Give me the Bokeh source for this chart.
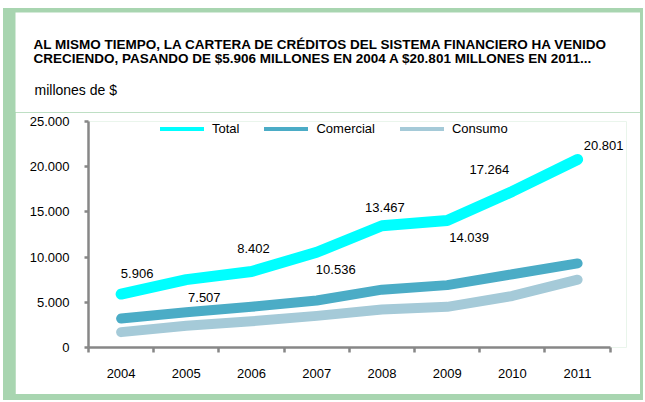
from bokeh.plotting import figure
from bokeh.models import (Range1d, LinearAxis, FixedTicker, Label,
                          Legend, LegendItem, LabelSet, ColumnDataSource)
from bokeh.core.properties import value
from bokeh.layouts import column
from bokeh.embed import file_html
from bokeh.resources import INLINE

# ---------------- data ----------------
years = ["2004", "2005", "2006", "2007", "2008", "2009", "2010", "2011"]
total = [5906, 7507, 8402, 10536, 13467, 14039, 17264, 20801]
comercial = [3200, 3900, 4500, 5200, 6400, 6900, 8100, 9300]
consumo = [1700, 2400, 2900, 3500, 4200, 4500, 5700, 7500]
total_labels = ["5.906", "7.507", "8.402", "10.536", "13.467", "14.039", "17.264", "20.801"]
y_ticks = [0, 5000, 10000, 15000, 20000, 25000]
y_tick_labels = ["0", "5.000", "10.000", "15.000", "20.000", "25.000"]
series_names = ["Total", "Comercial", "Consumo"]
title_lines = [
    "AL MISMO TIEMPO, LA CARTERA  DE CRÉDITOS DEL SISTEMA FINANCIERO  HA VENIDO",
    "CRECIENDO,  PASANDO  DE $5.906  MILLONES EN 2004 A $20.801  MILLONES EN 2011...",
]
unit_label = "millones de $"

# category slots: centre of slot i is i + 0.5
n = len(years)
xc = [i + 0.5 for i in range(n)]
series = [total, comercial, consumo]

# ---------------- style ----------------
FONT = "Liberation Sans"
GREEN = "#A8D5B0"
AXIS = "#878787"
COLORS = ["#00FFFF", "#4BACC6", "#A5CAD8"]
WIDTHS = [11, 10, 10]
RIGHT_PAD = 0.25  # extra room right of the last slot (for the last data label)
# pixel offsets of the data labels (style only)
label_dx = [16, 18, 2, 19, 3, 22, -23, 26]
label_dy = [21, -18, 23, -17, 18, -17, 22, 14]

# ---------------- header (title + unit) ----------------
head = figure(width=625, height=100, output_backend="svg", toolbar_location=None,
              x_range=Range1d(0, 1), y_range=Range1d(0, 1),
              x_axis_type=None, y_axis_type=None, min_border=0, frame_align=False)
head.outline_line_color = None
head.grid.visible = False
head.background_fill_color = "white"
head.border_fill_color = "white"
for txt, yy in zip(title_lines, [68.5, 54]):
    head.add_layout(Label(x=18, y=yy, x_units="screen", y_units="screen", text=txt,
                          text_align="left", text_baseline="middle", text_font=FONT,
                          text_font_size="13.5px", text_font_style="bold", text_color="black"))
head.add_layout(Label(x=19, y=23, x_units="screen", y_units="screen", text=unit_label,
                      text_align="left", text_baseline="middle", text_font=FONT,
                      text_font_size="14px", text_color="black"))

# ---------------- chart ----------------
p = figure(width=625, height=282, output_backend="svg", toolbar_location=None,
           x_range=Range1d(0, n + RIGHT_PAD), y_range=Range1d(y_ticks[0], y_ticks[-1]),
           x_axis_type=None, y_axis_type=None, frame_align=False,
           min_border_left=73, min_border_right=14, min_border_top=9, min_border_bottom=47)
p.outline_line_color = None
p.background_fill_color = "white"
p.border_fill_color = "white"
p.grid.visible = False

# y axis
yax = LinearAxis(ticker=FixedTicker(ticks=y_ticks),
                 major_label_overrides={t: l for t, l in zip(y_ticks, y_tick_labels)})
yax.axis_line_color = AXIS
yax.axis_line_width = 2.5
yax.major_tick_line_color = AXIS
yax.major_tick_line_width = 2.5
yax.major_tick_in = 0
yax.major_tick_out = 4
yax.minor_tick_line_color = None
yax.major_label_standoff = 15
yax.major_label_text_font = FONT
yax.major_label_text_font_size = "13px"
yax.major_label_text_color = "black"
p.add_layout(yax, "left")

# x axis line with ticks at category edges
xedge = LinearAxis(ticker=FixedTicker(ticks=list(range(n + 1))), bounds=(0, n),
                   major_label_overrides={i: "" for i in range(n + 1)})
xedge.axis_line_color = AXIS
xedge.axis_line_width = 2.5
xedge.major_tick_line_color = AXIS
xedge.major_tick_line_width = 2.5
xedge.major_tick_in = 0
xedge.major_tick_out = 5
xedge.minor_tick_line_color = None
xedge.major_label_text_font_size = "1px"
xedge.major_label_standoff = 0
p.add_layout(xedge, "below")

# category labels at slot centres
xcat = LinearAxis(ticker=FixedTicker(ticks=xc), bounds=(0, n),
                  major_label_overrides={c: y for c, y in zip(xc, years)})
xcat.axis_line_color = None
xcat.major_tick_line_color = None
xcat.minor_tick_line_color = None
xcat.major_tick_out = 0
xcat.major_tick_in = 0
xcat.major_label_standoff = 16
xcat.major_label_text_font = FONT
xcat.major_label_text_font_size = "13px"
xcat.major_label_text_color = "black"
p.add_layout(xcat, "below")

kw = dict(line_cap="round", line_join="round")
# thin legend-sample lines, hidden underneath the thick series lines
leg_rs = [p.line(xc, s, line_color=c, line_width=4, **kw) for s, c in zip(series, COLORS)]
# series lines (back to front: Consumo, Comercial, Total)
for s, c, w in reversed(list(zip(series, COLORS, WIDTHS))):
    p.line(xc, s, line_color=c, line_width=w, **kw)

legend = Legend(items=[LegendItem(label=s, renderers=[r]) for s, r in zip(series_names, leg_rs)],
                orientation="horizontal", location=(72, 211),
                glyph_width=44, glyph_height=15, label_standoff=8, spacing=25,
                padding=0, margin=0, border_line_color=None, background_fill_alpha=0,
                label_text_font=FONT, label_text_font_size="13px", label_text_color="black")
p.add_layout(legend, "center")

# data labels
src = ColumnDataSource(dict(x=xc, y=total, text=total_labels, dx=label_dx, dy=label_dy))
p.add_layout(LabelSet(x="x", y="y", text="text", x_offset="dx", y_offset="dy", source=src,
                      text_align="center", text_baseline="middle",
                      text_font=value(FONT), text_font_size=value("13px"),
                      text_color=value("black")))

layout = column(head, p, spacing=0,
                styles={"background-color": GREEN, "padding": "4px 3px 6px 12px",
                        "margin": "8px 0 0 3px"})

open("out.html", "w").write(file_html(layout, INLINE))
